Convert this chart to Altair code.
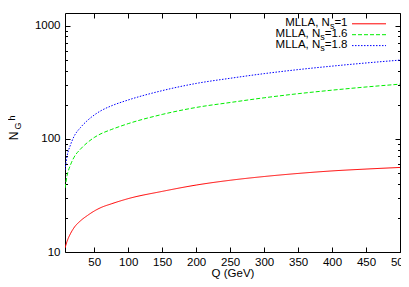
import altair as alt
import pandas as pd

# ---- data ----
Q = [7, 10, 15, 20, 30, 40, 50, 60, 75, 100, 150, 200, 250, 300, 350, 400, 450, 500]
N_NS1 = [10.85, 12.4, 14.5, 16.3, 18.9, 21.0, 23.0, 24.7, 26.6, 29.6, 34.3, 39.0, 43.0, 46.4, 49.4, 52.0, 54.0, 55.8]
N_NS16 = [36.7, 47.1, 58.6, 68.1, 81.3, 92.6, 102.6, 110.8, 120.5, 136, 164, 189, 209, 230, 250, 268.6, 286.6, 303.5]
N_NS18 = [53, 70, 88, 104, 126, 145, 162, 177, 195, 220, 266, 308, 342, 376, 408, 438, 467, 495]

SERIES_VALUES = ["1", "1.6", "1.8"]
SERIES_FIELDS = ["ns1", "ns16", "ns18"]
SERIES_COLORS = ["#ff0000", "#00ee00", "#0000ff"]
SERIES_DASH = [[1, 0], [4, 2], [1.5, 1.5]]

X_TICKS = [50, 100, 150, 200, 250, 300, 350, 400, 450, 500]
Y_LABELS = [10, 100, 1000]
Y_TICKS = [10, 20, 30, 40, 50, 60, 70, 80, 90, 100, 200, 300, 400, 500, 600, 700, 800, 900, 1000]
X_TITLE = "Q (GeV)"

df = pd.DataFrame({"Q": Q, "ns1": N_NS1, "ns16": N_NS16, "ns18": N_NS18})

W, H = 335, 239
FONT = "Liberation Sans"
FS = 11.5
SUB_FS = 9

x_scale = alt.Scale(domain=[7, 500], nice=False, zero=False)
y_scale = alt.Scale(type="log", domain=[10, 1290], nice=False)

major_test = "datum.value == 10 || datum.value == 100 || datum.value == 1000"

ax_x_lab = alt.Axis(orient="bottom", values=X_TICKS, ticks=False, tickSize=0, domain=False,
                    labelPadding=4, labelFlush=False, labelOverlap=False, title=X_TITLE,
                    titlePadding=0, titleFontWeight="normal", titleFontSize=FS, titleFont=FONT,
                    labelFont=FONT, labelFontSize=FS, labelColor="black", titleColor="black", grid=False)
ax_x_t1 = alt.Axis(orient="top", offset=-H, values=X_TICKS, labels=False, domain=False, tickSize=5,
                   tickColor="black", title=None, grid=False)
ax_x_t2 = alt.Axis(orient="bottom", offset=-H, values=X_TICKS, labels=False, domain=False, tickSize=5,
                   tickColor="black", title=None, grid=False)

ax_y_lab = alt.Axis(orient="left", values=Y_LABELS, format="d", ticks=False, tickSize=0, domain=False,
                    labelPadding=5, labelOverlap=False, labelFont=FONT, labelFontSize=FS,
                    labelColor="black", title=None, grid=False)
tick_size = {"condition": {"test": major_test, "value": 5}, "value": 2.5}
ax_y_t1 = alt.Axis(orient="right", offset=-W, values=Y_TICKS, labels=False, domain=False,
                   tickSize=tick_size, tickColor="black", title=None, grid=False)
ax_y_t2 = alt.Axis(orient="left", offset=-W, values=Y_TICKS, labels=False, domain=False,
                   tickSize=tick_size, tickColor="black", title=None, grid=False)

axes = [(ax_x_lab, ax_y_lab), (ax_x_t1, ax_y_t1), (ax_x_t2, ax_y_t2)]

layers = []
for field, color, dash, (ax, ay) in zip(SERIES_FIELDS, SERIES_COLORS, SERIES_DASH, axes):
    layers.append(
        alt.Chart(df).mark_line(color=color, strokeWidth=1, strokeDash=dash,
                                interpolate="monotone", clip=True).encode(
            x=alt.X("Q:Q", scale=x_scale, axis=ax),
            y=alt.Y(f"{field}:Q", scale=y_scale, axis=ay),
        )
    )

# Approximate Liberation Sans advance widths (em) for right alignment of legend pieces
ADV = {"=": 0.584, "1": 0.556, ".": 0.278, "6": 0.556, "8": 0.556, "s": 0.5}


def width(s, fs):
    return sum(ADV[c] for c in s) * fs


def text_layer(txt, x, y, fs, align="right", angle=0):
    props = dict(align=align, baseline="middle", font=FONT, fontSize=fs, color="black")
    if angle:
        props["angle"] = angle
    return alt.Chart(pd.DataFrame({"t": [txt]})).mark_text(**props).encode(
        text="t:N", x=alt.value(x), y=alt.value(y))


XR = 282.5
ROW0 = 10.3
ROW_STEP = 10.9
for i, (val, color, dash) in enumerate(zip(SERIES_VALUES, SERIES_COLORS, SERIES_DASH)):
    y = ROW0 + i * ROW_STEP
    rest = "=" + val
    w_rest = width(rest, FS)
    w_sub = width("s", SUB_FS)
    layers.append(text_layer(rest, XR, y, FS))
    layers.append(text_layer("s", XR - w_rest, y + 2.8, SUB_FS))
    layers.append(text_layer("MLLA, N", XR - w_rest - w_sub, y, FS))
    layers.append(
        alt.Chart(pd.DataFrame({"t": [val]})).mark_rule(color=color, strokeWidth=1, strokeDash=dash).encode(
            x=alt.value(287), x2=alt.value(321), y=alt.value(y + 0.5))
    )

# y-axis title N_G^h (rotated)
layers.append(text_layer("N", -51.5, 123, 12, align="center", angle=270))
layers.append(text_layer("G", -47.5, 113, SUB_FS, align="center", angle=270))
layers.append(text_layer("h", -53, 105, SUB_FS, align="center", angle=270))

chart = alt.layer(*layers).resolve_axis(x="independent", y="independent").properties(
    width=W, height=H,
    padding={"left": 57, "top": 5, "right": 1, "bottom": 27},
    autosize=alt.AutoSizeParams(type="none"),
    background="white",
).configure_view(stroke="black", strokeWidth=1).configure_axis(grid=False, tickWidth=1)

chart.save("out.html", embed_options={"renderer": "svg", "actions": False})
